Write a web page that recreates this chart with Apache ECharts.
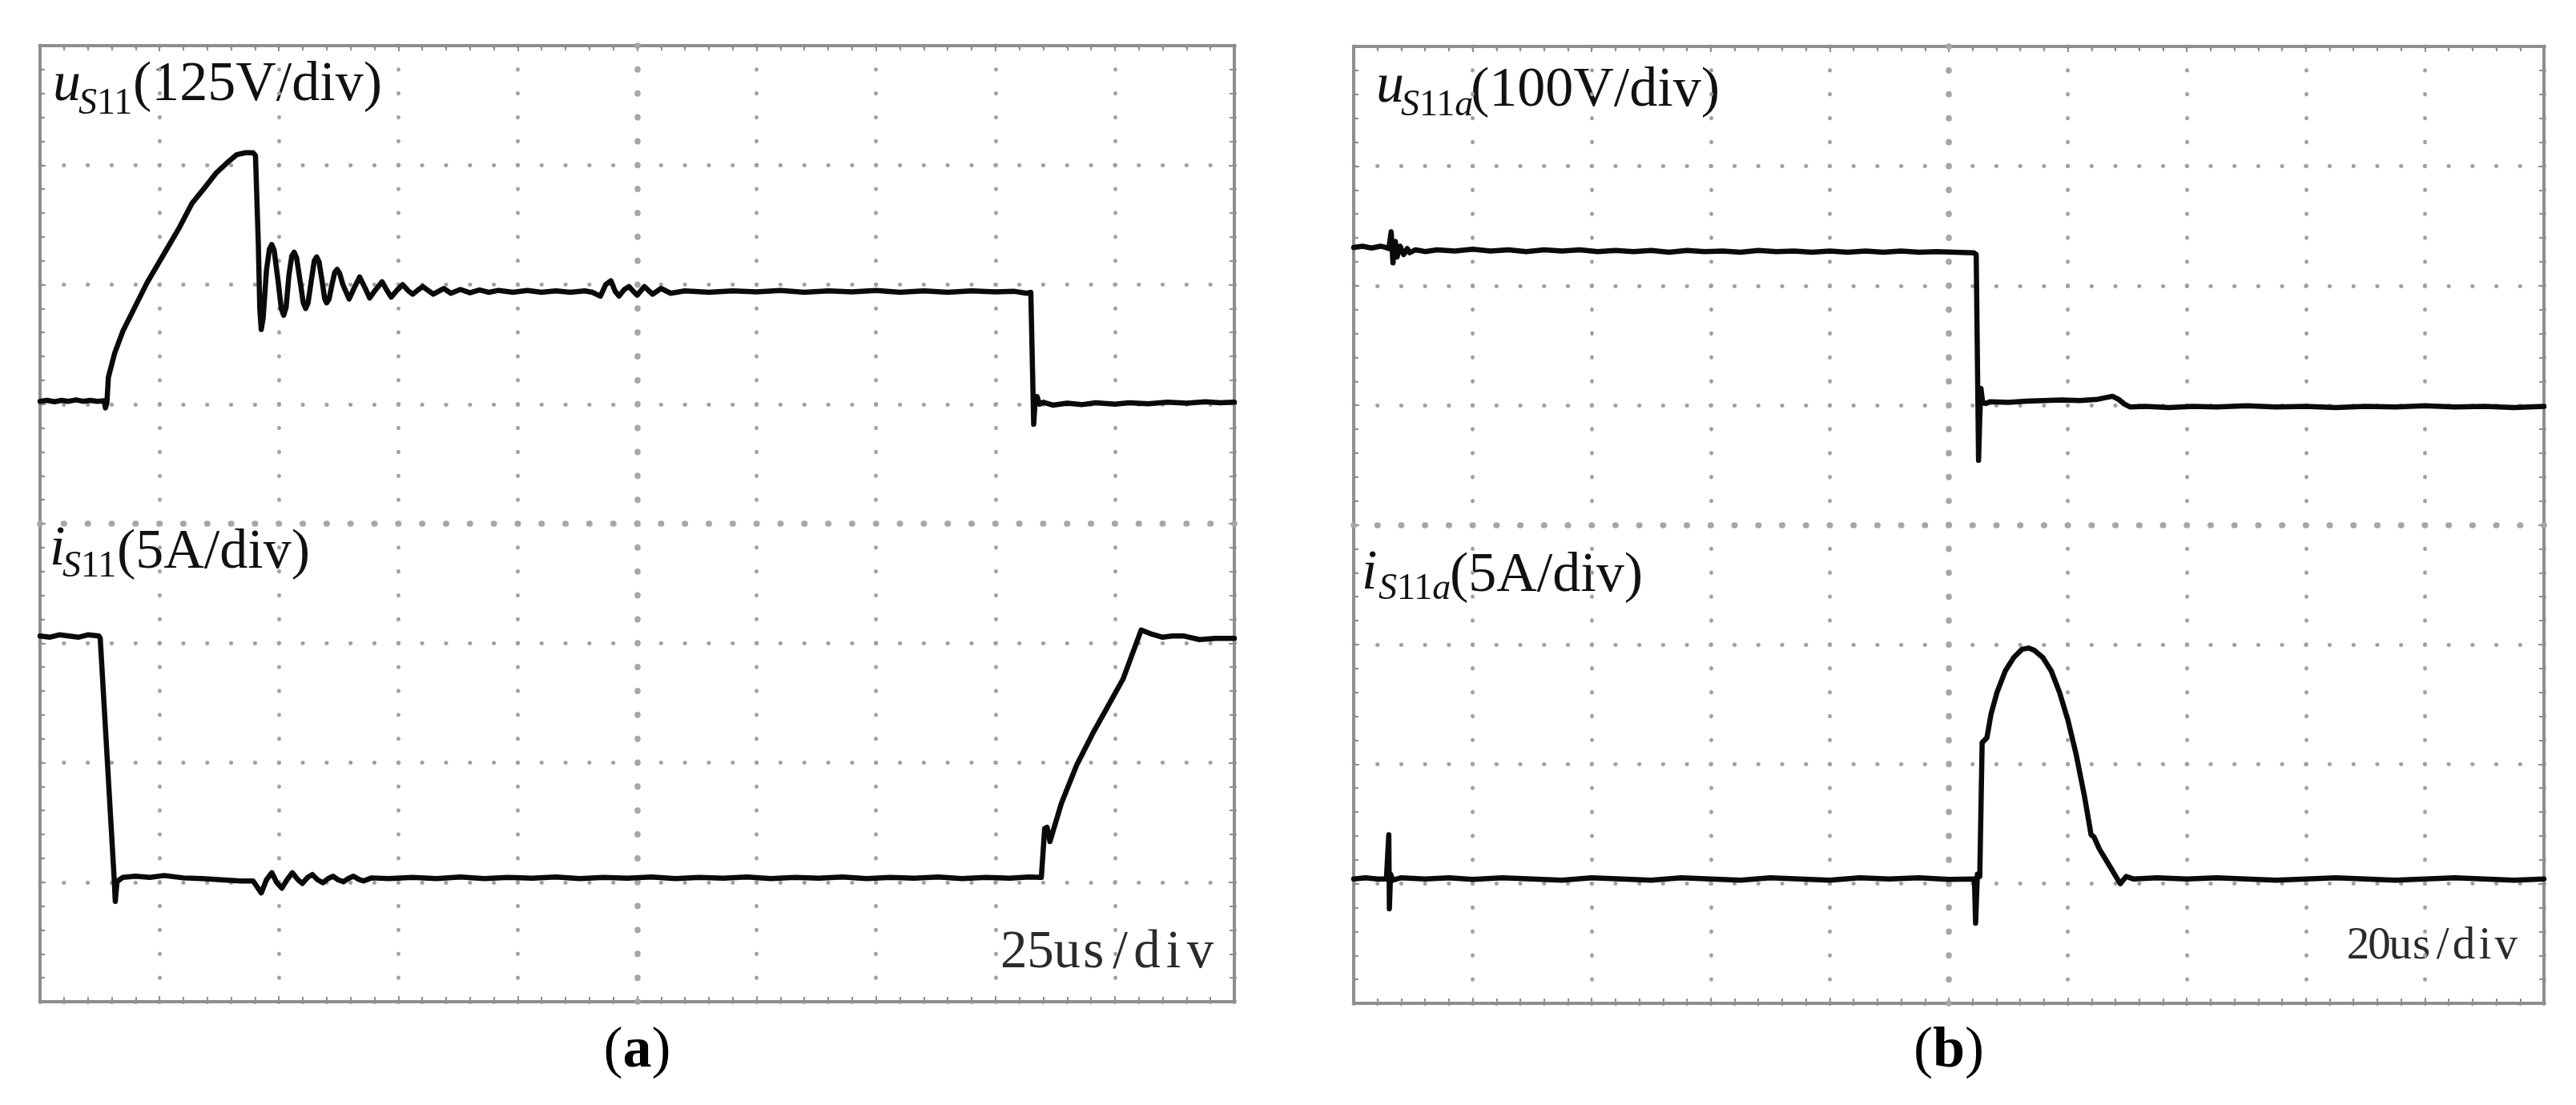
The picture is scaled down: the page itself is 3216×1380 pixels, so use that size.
<!DOCTYPE html>
<html><head><meta charset="utf-8">
<script src="https://cdn.jsdelivr.net/npm/echarts@6/dist/echarts.min.js"></script>
<style>html,body{margin:0;padding:0;background:#fff}#c{width:3216px;height:1380px}</style>
</head><body><div id="c"></div>
<script>
// ---------------- DATA ----------------
// Panel (a): 25 us/div, u_S11 125 V/div, i_S11 5 A/div
const timeA = { min: 0, max: 250, perDiv: 25 };
const uAxisA = { min: -625, max: 375, perDiv: 125 };
const iAxisA = { min: -5, max: 35, perDiv: 5 };
// Panel (b): 20 us/div, u_S11a 100 V/div, i_S11a 5 A/div
const timeB = { min: 0, max: 200, perDiv: 20 };
const uAxisB = { min: -500, max: 300, perDiv: 100 };
const iAxisB = { min: -5, max: 35, perDiv: 5 };

const labelsA = { u: ['u', 'S', '11', '', '(125V/div)'], i: ['i', 'S', '11', '', '(5A/div)'], time: '25us/div', caption: 'a' };
const labelsB = { u: ['u', 'S', '11', 'a', '(100V/div)'], i: ['i', 'S', '11', 'a', '(5A/div)'], time: '20us/div', caption: 'b' };

// u_S11 [t (us), V]
const uS11 = [[0,3],[1.5,4],[3,2.5],[4.5,4],[6,3],[7.5,4.5],[9,3],[10.5,4],[12,3],[13.4,3.5],[13.7,-4],[14,2],[14.3,28],[15.6,53],[17.3,76],[19.8,101],[22.4,127],[25.8,156],[29.2,185],[31.8,210],[34.4,226],[36.9,242],[39.5,254],[41.2,261],[43,263],[44.6,263],[45.1,260],[45.7,166],[46.0,100],[46.3,78],[46.7,90],[47.4,140],[48.0,162],[48.5,167],[49.0,161],[49.8,130],[50.5,100],[51.0,93],[51.5,101],[52.1,135],[52.7,155],[53.2,159],[53.7,153],[54.4,130],[55.1,106],[55.6,100],[56.1,106],[56.8,130],[57.4,150],[57.9,154],[58.4,149],[59,130],[59.6,110],[60.0,106],[60.5,110],[61.1,125],[61.7,138],[62.2,141],[62.7,137],[63.4,125],[64.7,110],[65.8,122],[66.9,133],[68,122],[69.0,111],[70.3,120],[71.6,128],[72.5,120],[73.5,112],[74.7,119],[75.9,125],[77,119],[78.0,115],[79,119],[80.1,123],[81.2,119],[82.3,115],[83.4,118],[84.5,121],[86,116],[88,120],[90,116.5],[92,119.5],[94,117],[96,119],[99,117],[102,119],[105,117],[108,118.5],[111,117],[114,118.5],[115.6,117],[117.3,113],[118.4,125],[119.5,129],[120.4,118],[121.2,113],[122.3,120],[123.3,123],[124.2,118],[125,114],[126.5,123],[128.2,115],[130,121],[132,116],[135,118.5],[140,117],[145,118.5],[150,117.5],[155,119],[160,117],[165,118.5],[170,117.5],[175,119],[180,117],[185,118.5],[190,117],[195,118.5],[200,117.5],[204,118],[206.5,116],[207.4,117],[208.0,-21],[208.3,3],[208.7,8],[209.2,0],[210,2],[212,-1],[215,1],[218,-0.5],[221,1.5],[225,0],[228,1.5],[232,0.5],[236,2],[240,1],[244,2.5],[247,1.5],[250,2]];

// i_S11 [t (us), A]
const iS11 = [[0,10.3],[2,10.25],[4,10.35],[6,10.3],[8,10.25],[10,10.35],[12.3,10.3],[12.6,10.2],[15.5,0.2],[15.75,-0.8],[16.1,0.0],[16.6,0.1],[17.3,0.2],[20,0.25],[23,0.2],[26,0.28],[30,0.18],[34,0.15],[38,0.1],[42,0.05],[44.6,0.05],[46.3,-0.45],[47.4,0.1],[48.5,0.4],[49.5,0],[50.6,-0.25],[51.7,0.1],[52.8,0.4],[54,0.1],[54.9,-0.05],[56,0.2],[57.0,0.32],[58.1,0.1],[59.2,-0.02],[60.3,0.15],[61.3,0.25],[62.4,0.1],[63.5,0.02],[64.5,0.15],[65.6,0.25],[66.7,0.12],[67.7,0.05],[69.4,0.18],[73,0.15],[78,0.2],[83,0.15],[88,0.22],[93,0.15],[98,0.2],[103,0.17],[108,0.22],[113,0.15],[118,0.2],[123,0.17],[128,0.22],[133,0.15],[138,0.2],[143,0.17],[148,0.22],[153,0.15],[158,0.2],[163,0.17],[168,0.22],[173,0.15],[178,0.2],[183,0.17],[188,0.22],[193,0.15],[198,0.2],[203,0.17],[207,0.22],[209.6,0.2],[210.3,2.25],[210.8,2.3],[211.4,1.7],[213.8,3.3],[217.0,4.9],[220.3,6.2],[223.5,7.35],[226.7,8.5],[230.5,10.55],[232.4,10.4],[235.0,10.25],[237,10.3],[239.5,10.3],[242.7,10.15],[246,10.2],[250,10.2]];

// u_S11a [t (us), V]
const uS11a = [[0,132],[1.5,133],[3,131.5],[4.5,133],[5.3,132],[5.9,131],[6.3,145],[6.6,119],[7.0,137],[7.3,124],[7.8,133],[8.4,126],[9.0,131],[9.4,127.5],[10.4,130],[12,128.5],[14,130],[17,129],[20,130.5],[23,129],[26,130],[29,128.5],[32,130],[35,129],[38,130],[41,128.5],[44,129.5],[47,128.5],[50,129.5],[53,128],[56,129.5],[59,128.5],[62,129],[65,128],[68,129.5],[71,128.5],[74,129],[77,128],[80,129],[83,128],[86,129],[89,128],[92,129],[95,128],[98,128.5],[101,128],[104.2,127.5],[104.6,126],[105.0,-46],[105.2,-10],[105.4,14],[105.7,2],[106.2,1.5],[107,3],[110,2.5],[113,3.5],[116,4],[119,4.5],[122,4],[125,5],[126.5,6.5],[127.5,7.5],[128.5,5],[129.5,1],[130.5,-1.5],[133,-1],[137,-2],[141,-1],[145,-1.5],[150,-0.5],[155,-1.5],[160,-1],[165,-2],[170,-1],[175,-1.5],[180,-0.5],[185,-1.5],[190,-1],[195,-2],[200,-1]];

// i_S11a [t (us), A]
const iS11a = [[0,0.2],[2,0.25],[4,0.2],[5.5,0.2],[5.9,2.05],[6.0,-1.05],[6.2,0.4],[6.6,0.15],[8,0.25],[12,0.2],[16,0.25],[20,0.18],[25,0.25],[30,0.2],[35,0.15],[40,0.25],[45,0.2],[50,0.15],[55,0.25],[60,0.2],[65,0.15],[70,0.25],[75,0.2],[80,0.15],[85,0.25],[90,0.2],[95,0.25],[100,0.18],[104.3,0.2],[104.5,-1.65],[104.8,0.4],[105.2,0.3],[105.6,5.9],[106.4,6.1],[107.1,7.1],[108.1,8.0],[109.5,8.9],[110.9,9.45],[112.3,9.8],[113.4,9.85],[114.4,9.75],[115.8,9.45],[117.2,8.9],[118.6,8.0],[120.0,6.85],[121.4,5.4],[122.8,3.65],[123.9,2.05],[124.4,1.95],[125.3,1.45],[127.0,0.75],[128.8,0.0],[129.8,0.3],[131,0.2],[135,0.25],[140,0.2],[145,0.25],[150,0.2],[155,0.15],[160,0.2],[165,0.25],[170,0.2],[175,0.15],[180,0.2],[185,0.25],[190,0.2],[195,0.15],[200,0.2]];

// ---------------- LAYOUT / STYLE ----------------
const GRID_A = { left: 50, top: 57, width: 1491, height: 1194 };
const GRID_B = { left: 1690, top: 58, width: 1486, height: 1195 };
const BORDER = '#8e8e8e', DOT = '#a0a0a0', CDOT = '#a6a6a6', TRACE = '#0a0a0a';
const SERIF = '"Liberation Serif", "Times New Roman", serif';

function dotted(p, w, color) {
  return { color: color, width: w, type: [0.5, p - 0.5], dashOffset: 0.25, cap: 'round' };
}
function axesFor(gi, g, t, u, i) {
  const pV = g.height / 40, pH = g.width / 50;
  const tick = { show: true, inside: true, length: 7, lineStyle: { color: BORDER, width: 2 } };
  const minor = { show: true, splitNumber: 5, length: 6, lineStyle: { color: BORDER, width: 2 } };
  const line = { show: true, onZero: false, lineStyle: { color: BORDER, width: 4 } };
  const base = { gridIndex: gi, type: 'value', axisLabel: { show: false }, axisLine: line, axisTick: tick, minorTick: minor };
  return {
    x: [
      Object.assign({}, base, { min: t.min, max: t.max, interval: t.perDiv, position: 'bottom', splitLine: { show: true, lineStyle: dotted(pV, 4.8, DOT) } }),
      Object.assign({}, base, { min: t.min, max: t.max, interval: t.perDiv, position: 'top', splitLine: { show: false } })
    ],
    y: [
      Object.assign({}, base, { min: u.min, max: u.max, interval: u.perDiv, position: 'left', splitLine: { show: true, lineStyle: dotted(pH, 4.8, DOT) } }),
      Object.assign({}, base, { min: i.min, max: i.max, interval: i.perDiv, position: 'right', splitLine: { show: false } })
    ],
    pV: pV, pH: pH
  };
}
const axA = axesFor(0, GRID_A, timeA, uAxisA, iAxisA);
const axB = axesFor(1, GRID_B, timeB, uAxisB, iAxisB);

function trace(xi, yi, data) {
  return { type: 'line', xAxisIndex: xi, yAxisIndex: yi, data: data, showSymbol: false, symbol: 'none',
    lineStyle: { color: TRACE, width: 6.5, join: 'round', cap: 'round' }, z: 5, silent: true, animation: false };
}
function centerLines(xi, yi, t, u, data, ax) {
  return { type: 'line', xAxisIndex: xi, yAxisIndex: yi, data: data, showSymbol: false, symbol: 'none',
    lineStyle: { opacity: 0 }, z: 1, silent: true, animation: false,
    markLine: { silent: true, symbol: ['none', 'none'], label: { show: false }, animation: false, z: 1,
      emphasis: { disabled: true },
      lineStyle: dotted(ax.pH, 7.5, CDOT),
      data: [
        { yAxis: (u.min + u.max) / 2, lineStyle: dotted(ax.pH, 7.5, CDOT) },
        { xAxis: (t.min + t.max) / 2, lineStyle: dotted(ax.pV, 7.5, CDOT) }
      ] } };
}

// text helpers: (x, baseline) anchoring
function txt(x, base, text, size, opts) {
  opts = opts || {};
  const k = 0.34;
  return { type: 'text', x: x, y: base, silent: true,
    style: { x: 0, y: -k * size, text: text, fill: opts.fill || '#111',
      font: (opts.style || '') + ' ' + size + 'px ' + SERIF,
      align: 'left', verticalAlign: 'middle', textAlign: 'left', textVerticalAlign: 'middle' } };
}
function sigLabel(lbl, pos) {
  // pos: [xMain, baseMain, xSub, baseSub, xUnit, baseUnit]
  const out = [];
  out.push(txt(pos[0], pos[1], lbl[0], 70, { style: 'italic' }));
  out.push({ type: 'text', x: pos[2], y: pos[3], silent: true,
    style: { x: 0, y: -0.34 * 46, text: '{i|' + lbl[1] + '}{n|' + lbl[2] + '}' + (lbl[3] ? '{i|' + lbl[3] + '}' : ''),
      fill: '#111', verticalAlign: 'middle', textVerticalAlign: 'middle',
      rich: { i: { font: 'italic 46px ' + SERIF, fill: '#111' }, n: { font: '46px ' + SERIF, fill: '#111' } } } });
  out.push(txt(pos[4], pos[5], lbl[4], 70));
  return out;
}
// monospaced-cell serif text (oscilloscope style), right aligned at x
function timeLabel(xRight, base, text, size, cell) {
  const chars = text.split('');
  return { type: 'text', x: xRight, y: base, silent: true,
    style: { x: 0, y: -0.34 * size, text: chars.map(function (c) { return '{c|' + c + '}'; }).join(''),
      align: 'right', textAlign: 'right', verticalAlign: 'middle', textVerticalAlign: 'middle', fill: '#2b2b2b',
      rich: { c: { font: size + 'px ' + SERIF, width: cell, align: 'center', fill: '#2b2b2b' } } } };
}
function caption(cx, base, letter) {
  return { type: 'text', x: cx, y: base, silent: true,
    style: { x: 0, y: -0.34 * 72, text: '{p|(}{b|' + letter + '}{p|)}', fill: '#000',
      align: 'center', textAlign: 'center', verticalAlign: 'middle', textVerticalAlign: 'middle',
      rich: { p: { font: '72px ' + SERIF, fill: '#000' }, b: { font: 'bold 72px ' + SERIF, fill: '#000' } } } };
}

const graphics = [].concat(
  sigLabel(labelsA.u, [66, 130, 98, 146, 166, 130]),
  sigLabel(labelsA.i, [62, 710, 78, 724, 146, 714]),
  sigLabel(labelsB.u, [1718, 132, 1749, 148, 1836, 137]),
  sigLabel(labelsB.i, [1700, 740, 1721, 752, 1810, 743]),
  [
    timeLabel(1515, 1213, labelsA.time, 67, 33.25),
    timeLabel(3142, 1201, labelsB.time, 57, 26.4),
    caption(GRID_A.left + GRID_A.width / 2, 1338, labelsA.caption),
    caption(GRID_B.left + GRID_B.width / 2, 1338, labelsB.caption)
  ]
);

const chart = echarts.init(document.getElementById('c'), null, { renderer: 'canvas' });
chart.setOption({
  backgroundColor: '#ffffff',
  animation: false,
  grid: [
    Object.assign({ containLabel: false, show: false }, GRID_A),
    Object.assign({ containLabel: false, show: false }, GRID_B)
  ],
  xAxis: axA.x.concat(axB.x),
  yAxis: axA.y.concat(axB.y),
  series: [
    centerLines(0, 0, timeA, uAxisA, uS11, axA),
    trace(0, 0, uS11),
    trace(0, 1, iS11),
    centerLines(2, 2, timeB, uAxisB, uS11a, axB),
    trace(2, 2, uS11a),
    trace(2, 3, iS11a)
  ],
  graphic: graphics
});
</script></body></html>
